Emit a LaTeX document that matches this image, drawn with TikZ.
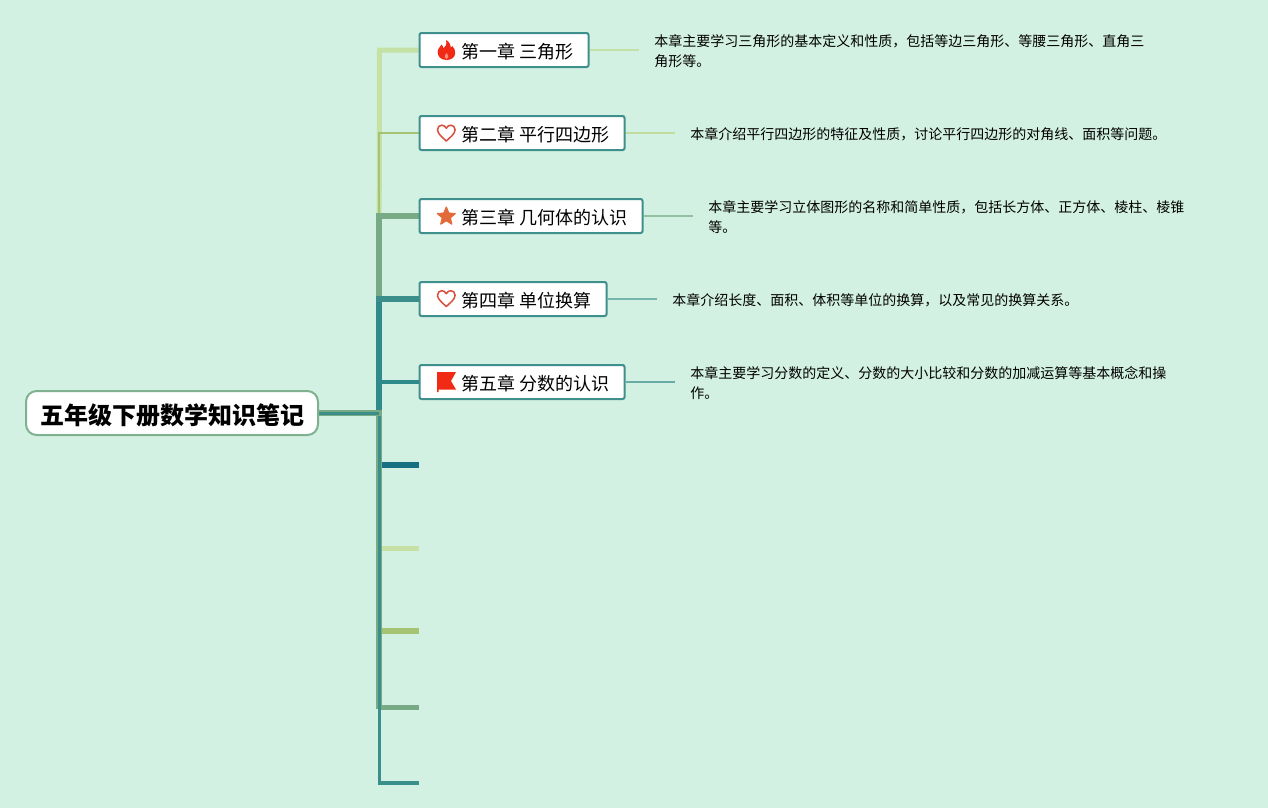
\documentclass[tikz,border=0pt]{standalone}
\usepackage{fontspec}
\setmainfont{Noto Sans CJK SC}
\usetikzlibrary{backgrounds,shapes.geometric}
\definecolor{bgc}{HTML}{D3F1E2}
\definecolor{boxc}{HTML}{3F8F8C}
\definecolor{rootc}{HTML}{7FB08F}
\definecolor{lime}{HTML}{C5E1A5}
\definecolor{olive}{HTML}{A4C373}
\definecolor{sage}{HTML}{78AB85}
\definecolor{teal}{HTML}{3A8F8B}
\definecolor{tealb}{HTML}{2F8A8C}
\definecolor{deep}{HTML}{176F82}
\definecolor{heartc}{HTML}{D9503F}
\definecolor{starc}{HTML}{E2693A}
\definecolor{flagc}{HTML}{F02A14}
\tikzset{
  chap/.style={draw=boxc,line width=1.5pt,fill=white,rounded corners=1.5pt,anchor=west,
    minimum height=25.5pt,inner ysep=0pt,inner xsep=0pt,text height=14pt,text depth=0.8pt,
    font=\fontsize{13.5pt}{16pt}\selectfont},
  rootbox/.style={draw=rootc,line width=1.5pt,fill=white,rounded corners=8pt,
    minimum width=219pt,minimum height=33pt,inner sep=0pt,text height=18pt,text depth=1.4pt,
    font=\fontsize{18pt}{22pt}\selectfont\bfseries},
  desc/.style={anchor=west,inner xsep=11.25pt,inner ysep=0pt,align=left,font=\fontsize{10.5pt}{15pt}\selectfont},
  br/.style={line width=#1*0.75pt,line join=miter},
  stub/.style={line width=1.1pt}
}
\newcommand{\chaptext}[1]{\hspace*{31.15pt}#1\hspace*{11.6pt}}
\begin{document}
\begin{tikzpicture}[x=0.75pt,y=-0.75pt]
\useasboundingbox (0,0) rectangle (1268,808);
% nodes
\node[rootbox] (root) at (172,413) {\hspace*{1.5pt}五年级下册数学知识笔记};
\node[chap] (n1) at (418.5,50) {\chaptext{第一章 三角形}};
\node[chap] (n2) at (418.5,133) {\chaptext{第二章 平行四边形}};
\node[chap] (n3) at (418.5,216) {\chaptext{第三章 几何体的认识}};
\node[chap] (n4) at (418.5,299) {\chaptext{第四章 单位换算}};
\node[chap] (n5) at (418.5,382) {\chaptext{第五章 分数的认识}};
\node[desc] (d1) at (639,51) {本章主要学习三角形的基本定义和性质，包括等边三角形、等腰三角形、直角三\\角形等。};
\node[desc] (d2) at (675,134) {本章介绍平行四边形的特征及性质，讨论平行四边形的对角线、面积等问题。};
\node[desc] (d3) at (693,217) {本章主要学习立体图形的名称和简单性质，包括长方体、正方体、棱柱、棱锥\\等。};
\node[desc] (d4) at (657,300) {本章介绍长度、面积、体积等单位的换算，以及常见的换算关系。};
\node[desc] (d5) at (675,383) {本章主要学习分数的定义、分数的大小比较和分数的加减运算等基本概念和操\\作。};
\coordinate (tr) at (379.2,413);
\coordinate (b6) at (419,465);
\coordinate (b7) at (419,548);
\coordinate (b8) at (419,631);
\coordinate (b9) at (419,707);
\coordinate (b10) at (419,783);
\coordinate (t3) at (379.2,216);
\coordinate (t4) at (379.2,299);
% connectors
\begin{pgfonlayer}{background}
\fill[bgc] (0,0) rectangle (1268,808);
\draw[br=5,lime] (t3) -- (379.5,50) -- (n1.west);
\draw[br=2,olive] (379,216) -- (379,133) -- (n2.west);
\draw[br=6,sage] (379.2,302) -- (t3) -- (n3.west);
\draw[br=5.5,tealb] (tr) -- (379.2,296);
\draw[br=6,teal] (376.2,299) -- (n4.west);
\draw[br=4,tealb] (379.5,382) -- (n5.west);
\draw[br=6,deep] (382,465) -- (b6);
\draw[br=5,lime] (382,548) -- (b7);
\draw[br=6,olive] (382,631) -- (b8);
\draw[br=5,sage] (379.5,707) -- (b9);
\draw[br=5.5,sage] (tr) -- (379.2,709);
\draw[br=3.2,teal] (tr) -- (379.2,783) -- (b10);
\draw[br=5.5,sage] (root.east) -- (381.8,413);
\draw[br=3,teal] (root.east) -- (tr);
\draw[stub,lime] (n1.east) -- (n1.east -| d1.west);
\draw[stub,lime!85!olive] (n2.east) -- (n2.east -| d2.west);
\draw[stub,sage!70!bgc] (n3.east) -- (n3.east -| d3.west);
\draw[stub,teal!60!bgc] (n4.east) -- (n4.east -| d4.west);
\draw[stub,teal!70!bgc] (n5.east) -- (n5.east -| d5.west);
\end{pgfonlayer}
% icons
\fill[flagc] (446.5,60) .. controls (440.5,60) and (437.3,56) .. (437.7,51.5)
  .. controls (438,47.5) and (441,47) .. (441.5,44.5)
  .. controls (443,46) and (443.3,47) .. (443.3,48.5)
  .. controls (446,47) and (447,44) .. (446,40)
  .. controls (450,42) and (451,46) .. (450.5,48)
  .. controls (452,47.5) and (452,47) .. (452.3,46)
  .. controls (454.5,48.5) and (455.2,50.5) .. (455.2,53)
  .. controls (455,57) and (452,60) .. (446.5,60) -- cycle;
\fill[white!45!flagc] (446.5,59.3) .. controls (444.2,58.8) and (443.8,56) .. (446.5,53)
  .. controls (449.2,56) and (448.8,58.8) .. (446.5,59.3) -- cycle;
\foreach \cy in {133,298.5}{
\draw[heartc,line width=1.15pt,line join=round,shift={(446.3,\cy)}]
  (0,8) .. controls (-3,5) and (-8.8,1) .. (-8.8,-3.2)
  .. controls (-8.8,-6) and (-6.8,-7.8) .. (-4.6,-7.8)
  .. controls (-2.7,-7.8) and (-1,-6.8) .. (0,-4.8)
  .. controls (1,-6.8) and (2.7,-7.8) .. (4.6,-7.8)
  .. controls (6.8,-7.8) and (8.8,-6) .. (8.8,-3.2)
  .. controls (8.8,1) and (3,5) .. (0,8) -- cycle;
}
\node[star,star points=5,star point ratio=2.3,fill=starc,draw=starc,line width=.6pt,rounded corners=.5pt,
  minimum size=15pt,inner sep=0pt] (s3) at (446.3,216.5) {};
\fill[flagc] (437,372) -- (456,372) -- (451,381) -- (456,389.5) -- (438.5,389.5) -- (438.5,392) -- (437,392) -- cycle;
\end{tikzpicture}
\end{document}
